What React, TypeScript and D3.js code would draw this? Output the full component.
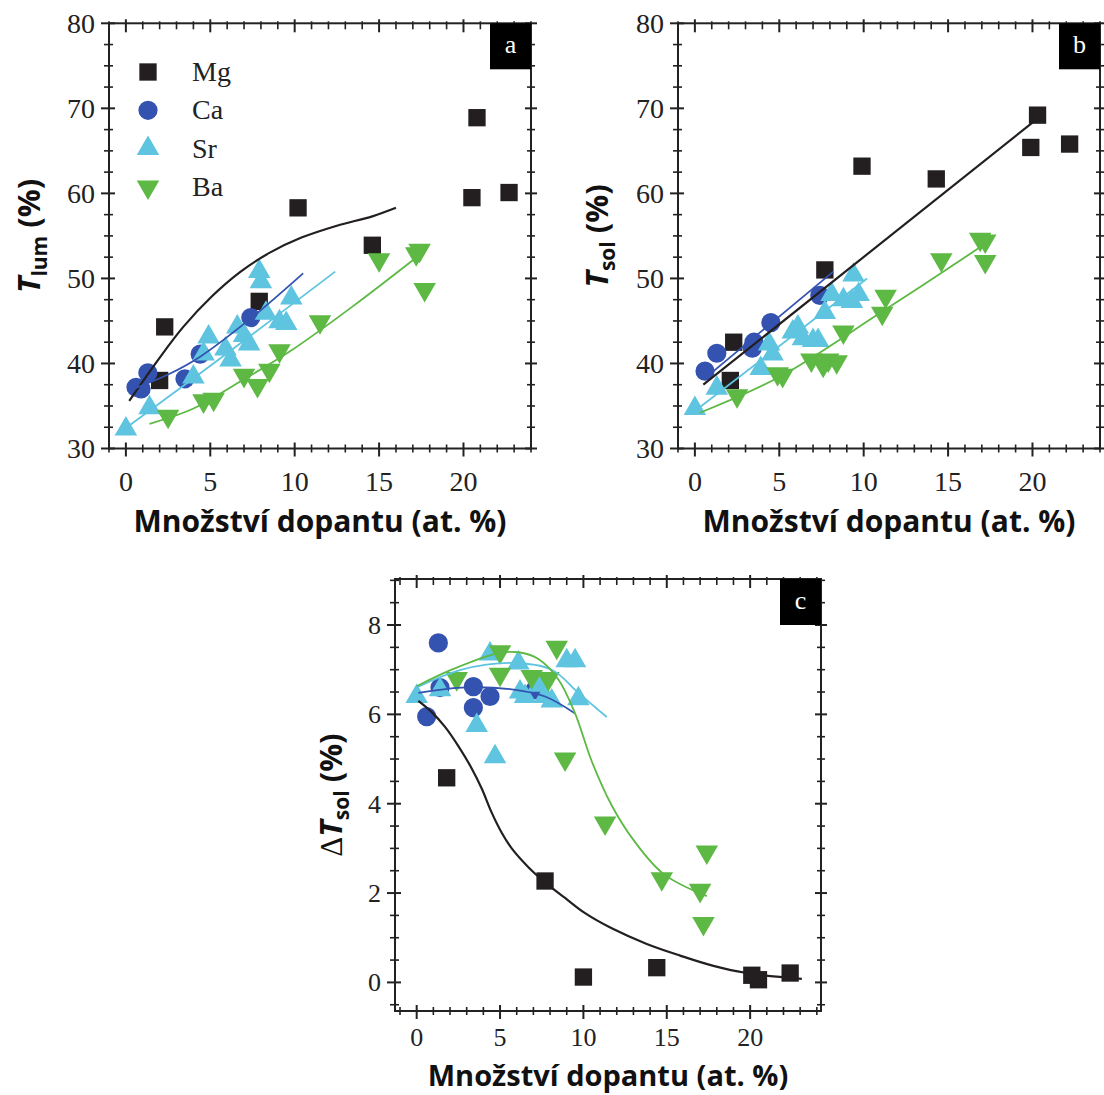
import React from 'react';
import * as d3 from 'd3';

// barvy a prvky
const elements = ['Mg', 'Ca', 'Sr', 'Ba'];
const colors: Record<string, string> = {Mg: '#231f20', Ca: '#3453b0', Sr: '#5ec4e0', Ba: '#5db944'};
const xMajor = [0, 5, 10, 15, 20];

// (a) T_lum
const tlumMg = [[2.0, 38.0], [2.3, 44.3], [7.9, 47.3], [10.2, 58.3], [14.6, 53.9], [20.5, 59.5], [20.8, 68.9], [22.7, 60.1]];
const tlumCa = [[0.6, 37.2], [0.9, 37.0], [1.3, 38.9], [3.5, 38.2], [4.4, 41.1], [7.4, 45.4]];
const tlumSr = [[0, 32.3], [1.4, 34.8], [4.0, 38.4], [4.6, 41.1], [4.9, 43.1], [5.9, 41.7], [6.2, 40.4], [6.6, 44.3], [7.0, 43.3], [7.3, 42.3], [7.9, 50.8], [8.0, 49.6], [8.3, 45.9], [9.1, 44.9], [9.5, 44.7], [9.8, 47.7]];
const tlumBa = [[2.5, 33.8], [4.6, 35.6], [5.2, 35.8], [7.0, 38.6], [7.8, 37.4], [8.5, 39.2], [9.1, 41.5], [11.5, 44.9], [15.0, 52.2], [17.2, 52.9], [17.4, 53.3], [17.7, 48.7]];
const tlumFitMg = [[0.2, 35.6], [1.9, 40.4], [3.4, 44.3], [5.1, 47.9], [6.8, 50.8], [8.5, 53.0], [10.4, 54.8], [12.5, 56.2], [14.6, 57.3], [16.0, 58.3]];
const tlumFitCa = [[0.3, 36.9], [2.5, 38.7], [4.4, 40.8], [7.4, 45.3], [10.5, 50.6]];
const tlumFitSr = [[0, 32.4], [6.0, 41.2], [12.4, 50.8]];
const tlumFitBa = [[1.4, 32.9], [4.0, 34.7], [6.7, 37.8], [9.7, 41.4], [13.5, 46.8], [17.3, 52.6]];

// (b) T_sol
const tsolMg = [[2.1, 38.0], [2.3, 42.5], [7.7, 51.0], [9.9, 63.2], [14.3, 61.7], [19.9, 65.4], [20.3, 69.2], [22.2, 65.8]];
const tsolCa = [[0.6, 39.1], [1.3, 41.2], [3.4, 41.8], [3.5, 42.5], [4.5, 44.8], [7.4, 48.0]];
const tsolSr = [[0, 34.7], [1.3, 37.1], [3.9, 39.4], [4.4, 42.3], [4.6, 41.1], [5.8, 43.7], [6.1, 44.3], [6.4, 42.9], [7.0, 42.7], [7.3, 42.7], [7.7, 46.0], [8.1, 48.1], [8.8, 47.5], [9.3, 47.3], [9.4, 50.4], [9.7, 48.1]];
const tsolBa = [[2.5, 36.2], [4.9, 38.8], [5.2, 38.6], [6.9, 40.4], [7.6, 39.8], [7.9, 40.4], [8.4, 40.2], [8.8, 43.7], [11.1, 45.9], [11.3, 47.9], [14.6, 52.2], [16.9, 54.6], [17.2, 54.4], [17.2, 52.0]];
const tsolFitMg = [[0.5, 37.5], [20.3, 68.8]];
const tsolFitCa = [[0.8, 38.6], [8.2, 50.8]];
const tsolFitSr = [[0, 34.4], [10.2, 50.0]];
const tsolFitBa = [[0.3, 34.2], [5.0, 38.4], [11.1, 46.1], [17.0, 53.8]];

// (c) delta T_sol
const dtsolMg = [[1.8, 4.58], [7.7, 2.27], [10.0, 0.12], [14.4, 0.33], [20.1, 0.16], [20.5, 0.06], [22.4, 0.21]];
const dtsolCa = [[0.6, 5.95], [1.3, 7.6], [1.4, 6.6], [3.4, 6.62], [3.4, 6.15], [4.4, 6.4], [7.1, 6.55]];
const dtsolSr = [[0, 6.4], [1.4, 6.55], [3.6, 5.75], [4.7, 5.05], [4.4, 7.35], [6.1, 7.15], [6.2, 6.5], [6.5, 6.4], [7.3, 6.65], [7.7, 6.4], [8.1, 6.3], [9.0, 7.2], [9.5, 7.2], [9.7, 6.35]];
const dtsolBa = [[2.4, 6.8], [5.0, 7.4], [5.0, 6.9], [6.9, 6.85], [7.9, 6.8], [8.4, 7.5], [8.9, 5.0], [11.3, 3.57], [14.7, 2.32], [17.0, 2.06], [17.4, 2.92], [17.2, 1.32]];
const dtsolFitMg = [[0.1, 6.3], [0.9, 6.05], [1.7, 5.72], [2.5, 5.29], [3.3, 4.79], [3.9, 4.34], [4.5, 3.8], [5.1, 3.35], [5.7, 3.0], [6.7, 2.58], [7.7, 2.24], [8.9, 1.89], [10.1, 1.55], [11.7, 1.21], [13.8, 0.86], [15.8, 0.6], [17.8, 0.37], [19.8, 0.21], [23.1, 0.08]];
const dtsolFitCa = [[0.1, 6.48], [2.7, 6.6], [5.7, 6.56], [7.7, 6.4], [9.5, 6.02]];
const dtsolFitSr = [[0, 6.6], [2.7, 7.0], [5.7, 7.15], [8.1, 7.0], [9.7, 6.48], [11.4, 5.94]];
const dtsolFitBa = [[0, 6.63], [2.1, 7.0], [4.9, 7.37], [6.1, 7.39], [7.3, 7.24], [8.5, 6.78], [9.5, 6.02], [10.5, 4.95], [11.7, 3.96], [13.0, 3.19], [14.8, 2.43], [17.4, 1.93]];

const symbols: Record<string, string> = {
    Mg: d3.symbol(d3.symbolSquare, 300)() as string,
    Ca: d3.symbol(d3.symbolCircle, 290)() as string,
    Sr: d3.symbol(d3.symbolTriangle, 220)() as string,
    Ba: d3.symbol(d3.symbolTriangle, 220)() as string,
};
const rot = (el: string) => (el === 'Ba' ? ' rotate(180)' : '');

const serif = "'Liberation Serif', 'Times New Roman', serif";
const sans = "'Open Sans', sans-serif";

const Panel = ({box, xDomain, yDomain, yMajor, yMinorStep, letter, series, fits, title, legend, tickSize, tickGap}: any) => {
    const x = d3.scaleLinear().domain(xDomain).range([box.left, box.right]);
    const y = d3.scaleLinear().domain(yDomain).range([box.bottom, box.top]);
    const xMinor = d3.range(Math.ceil(xDomain[0]), xDomain[1] + 0.001, 1).filter(v => v % 5 !== 0);
    const yMinor = d3.range(Math.ceil(yDomain[0] / yMinorStep) * yMinorStep, yDomain[1] + 0.001, yMinorStep)
        .filter(v => !yMajor.some((m: number) => Math.abs(m - v) < 1e-6));
    const line = d3.line<number[]>().x(d => x(d[0])).y(d => y(d[1])).curve(d3.curveCatmullRom);
    const cx = (box.left + box.right) / 2;
    const cy = (box.top + box.bottom) / 2;

    return (
        <g>
            {/* body */}
            {elements.map(el => series[el].map((d: number[], i: number) => (
                <path key={el + i} d={symbols[el]} fill={colors[el]}
                      transform={`translate(${x(d[0])},${y(d[1])})${rot(el)}`}/>
            )))}
            {/* fity */}
            {elements.map(el => (
                <path key={'f' + el} d={line(fits[el]) as string} fill="none" stroke={colors[el]}
                      strokeWidth={el === 'Mg' ? 2.2 : 1.8}/>
            ))}
            <rect x={box.left} y={box.top} width={box.right - box.left} height={box.bottom - box.top}
                  fill="none" stroke="#222" strokeWidth={2}/>
            {/* ticks x */}
            {xMajor.map(v => (
                <g key={'xm' + v}>
                    <line x1={x(v)} x2={x(v)} y1={box.bottom - 6} y2={box.bottom + 8} stroke="#222" strokeWidth={2}/>
                    <line x1={x(v)} x2={x(v)} y1={box.top - 4} y2={box.top + 9} stroke="#222" strokeWidth={2}/>
                    <text x={x(v)} y={box.bottom + tickGap} textAnchor="middle" fontFamily={serif}
                          fontSize={tickSize} fill="#222">{v}</text>
                </g>
            ))}
            {xMinor.map(v => (
                <g key={'xn' + v}>
                    <line x1={x(v)} x2={x(v)} y1={box.bottom - 4} y2={box.bottom + 4} stroke="#222" strokeWidth={1.6}/>
                    <line x1={x(v)} x2={x(v)} y1={box.top - 2} y2={box.top + 6} stroke="#222" strokeWidth={1.6}/>
                </g>
            ))}
            {/* ticks y */}
            {yMajor.map((v: number) => (
                <g key={'ym' + v}>
                    <line x1={box.left - 8} x2={box.left + 6} y1={y(v)} y2={y(v)} stroke="#222" strokeWidth={2}/>
                    <line x1={box.right - 6} x2={box.right + 6} y1={y(v)} y2={y(v)} stroke="#222" strokeWidth={2}/>
                    <text x={box.left - 14} y={y(v)} dy="0.34em" textAnchor="end" fontFamily={serif}
                          fontSize={tickSize} fill="#222">{v}</text>
                </g>
            ))}
            {yMinor.map((v: number) => (
                <g key={'yn' + v}>
                    <line x1={box.left - 5} x2={box.left + 4} y1={y(v)} y2={y(v)} stroke="#222" strokeWidth={1.6}/>
                    <line x1={box.right - 4} x2={box.right + 4} y1={y(v)} y2={y(v)} stroke="#222" strokeWidth={1.6}/>
                </g>
            ))}
            {/* popisek panelu */}
            <rect x={box.right - 41} y={box.top} width={41} height={46} fill="#000"/>
            <text x={box.right - 20.5} y={box.top + 30} textAnchor="middle" fontFamily={serif} fontSize={26}
                  fill="#fff">{letter}</text>
            {/* osy */}
            <text x={cx} y={box.bottom + title.xGap} textAnchor="middle" fontFamily={sans} fontWeight="bold"
                  fontSize={title.xSize} fill="#111">Množství dopantu (at. %)</text>
            <text transform={`translate(${box.left - title.yGap},${cy}) rotate(-90)`} textAnchor="middle"
                  fontFamily={sans} fontWeight="bold" fontSize={31} fill="#111">
                {title.delta && <tspan fontFamily={serif} fontWeight="normal">Δ</tspan>}
                <tspan fontStyle="italic">T</tspan>
                <tspan fontSize={21} dy={7}>{title.sub}</tspan>
                <tspan dy={-7}> (%)</tspan>
            </text>
            {legend && elements.map((el, i) => (
                <g key={'lg' + el}>
                    <path d={symbols[el]} fill={colors[el]}
                          transform={`translate(148,${72 + i * 38.3})${rot(el)}`}/>
                    <text x={192} y={72 + i * 38.3 + 9} fontFamily={serif} fontSize={28} fill="#222">{el}</text>
                </g>
            ))}
        </g>
    );
};

export default function App() {
    return (
        <svg width={1104} height={1095} style={{position: 'absolute', left: 0, top: 0, background: '#fff'}}>
            <Panel box={{left: 109, right: 531, top: 23.3, bottom: 448.5}} xDomain={[-1, 24]} yDomain={[30, 80]}
                   yMajor={[30, 40, 50, 60, 70, 80]} yMinorStep={2.5} letter="a" legend
                   series={{Mg: tlumMg, Ca: tlumCa, Sr: tlumSr, Ba: tlumBa}}
                   fits={{Mg: tlumFitMg, Ca: tlumFitCa, Sr: tlumFitSr, Ba: tlumFitBa}}
                   title={{sub: 'lum', xGap: 83, yGap: 69, xSize: 30}} tickSize={28} tickGap={42}/>
            <Panel box={{left: 678, right: 1100, top: 23.3, bottom: 448.5}} xDomain={[-1, 24]} yDomain={[30, 80]}
                   yMajor={[30, 40, 50, 60, 70, 80]} yMinorStep={2.5} letter="b"
                   series={{Mg: tsolMg, Ca: tsolCa, Sr: tsolSr, Ba: tsolBa}}
                   fits={{Mg: tsolFitMg, Ca: tsolFitCa, Sr: tsolFitSr, Ba: tsolFitBa}}
                   title={{sub: 'sol', xGap: 83, yGap: 70, xSize: 30}} tickSize={28} tickGap={42}/>
            <Panel box={{left: 395, right: 821, top: 579, bottom: 1011}} xDomain={[-1.3, 24.25]}
                   yDomain={[-0.64, 9.03]} yMajor={[0, 2, 4, 6, 8]} yMinorStep={0.5} letter="c"
                   series={{Mg: dtsolMg, Ca: dtsolCa, Sr: dtsolSr, Ba: dtsolBa}}
                   fits={{Mg: dtsolFitMg, Ca: dtsolFitCa, Sr: dtsolFitSr, Ba: dtsolFitBa}}
                   title={{sub: 'sol', delta: true, xGap: 75, yGap: 53, xSize: 29}} tickSize={26} tickGap={35}/>
        </svg>
    );
}
